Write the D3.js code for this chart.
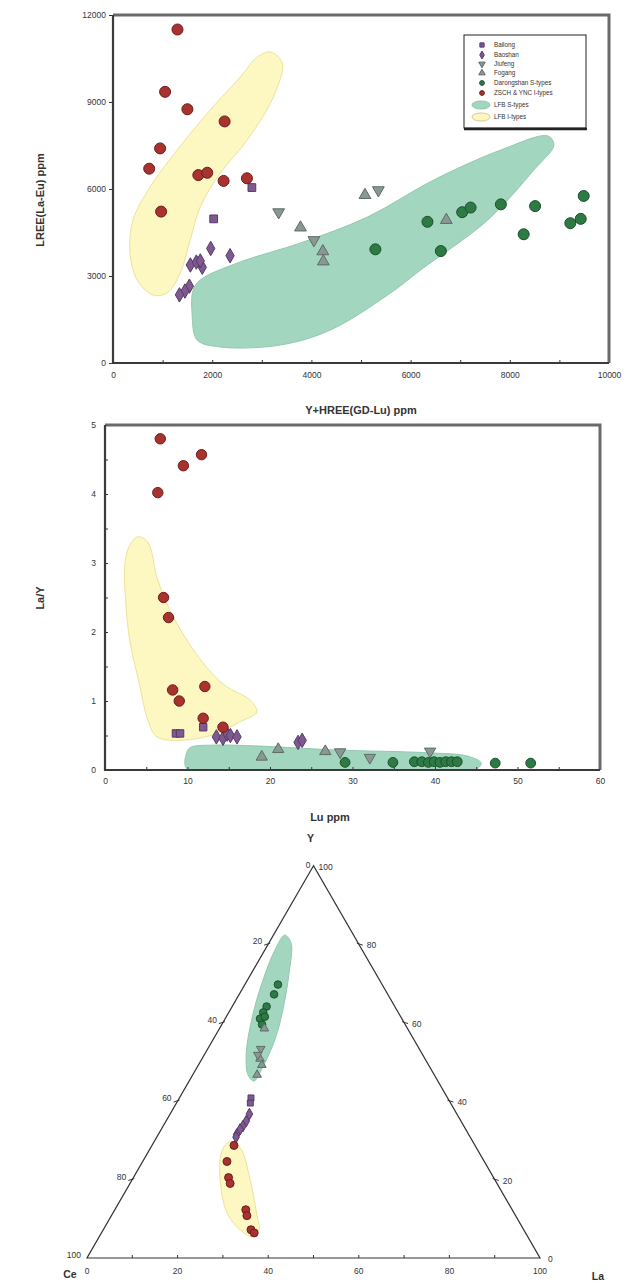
<!DOCTYPE html>
<html>
<head>
<meta charset="utf-8">
<script src="https://cdn.jsdelivr.net/npm/d3@7/dist/d3.min.js"></script>
<style>
  body { margin: 0; background: #fff; }
  svg { display: block; font-family: "Liberation Sans", Arial, sans-serif; }
  .tick text { fill: #333; }
</style>
</head>
<body>
<div id="chart"></div>
<script>
// ---------- data ----------
// panel 1: [Y+HREE(Gd-Lu) ppm, LREE(La-Eu) ppm]
const bailong1 = [[2800, 6050], [2030, 4970]]
const baoshan1 = [[1970, 3950], [2360, 3700], [1560, 3380], [1680, 3480], [1800, 3300], [1760, 3520], [1540, 2650], [1450, 2480], [1340, 2350]]
const jiufeng1 = [[3340, 5200], [4050, 4240], [5350, 5960]]
const fogang1 = [[3780, 4670], [5080, 5790], [6720, 4930], [4230, 3850], [4240, 3500]]
const darong1 = [[5290, 3920], [6340, 4870], [6610, 3860], [7040, 5200], [7210, 5360], [7820, 5470], [8510, 5410], [8280, 4440], [9490, 5760], [9220, 4820], [9430, 4970]]
const itype1 = [[1300, 11500], [1050, 9350], [1500, 8750], [2250, 8330], [950, 7400], [730, 6700], [1720, 6480], [1900, 6560], [2230, 6280], [2700, 6370], [970, 5220]]
const lfbS1 = [[1616, 2517], [1758, 2862], [2566, 3483], [3778, 4138], [5131, 5034], [6465, 6310], [7818, 7344], [8768, 7827], [8889, 7517], [8485, 6655], [7556, 4931], [6202, 3207], [5596, 2414], [4384, 1138], [3374, 620], [2162, 552], [1697, 793], [1596, 1655]]
const lfbI1 = [[3172, 10723], [3414, 10344], [3232, 9172], [2707, 7689], [2162, 6551], [1758, 5379], [1556, 4241], [1354, 3103], [1091, 2414], [808, 2345], [485, 2862], [343, 3793], [404, 4931], [747, 6069], [1293, 7344], [1960, 8723], [2566, 9861], [2909, 10551]]
const xTicks1 = [0, 2000, 4000, 6000, 8000, 10000]
const yTicks1 = [0, 3000, 6000, 9000, 12000]

// panel 2: [Lu ppm, La/Y]
const itype2 = [[6.7, 4.80], [6.4, 4.02], [9.5, 4.41], [11.7, 4.57], [7.1, 2.50], [7.7, 2.21], [8.2, 1.16], [9.0, 1.00], [12.1, 1.21], [11.9, 0.75], [14.3, 0.62]]
const bailong2 = [[8.6, 0.53], [9.1, 0.53], [11.9, 0.62]]
const baoshan2 = [[13.5, 0.48], [14.3, 0.46], [14.8, 0.52], [15.2, 0.50], [16.0, 0.48], [23.4, 0.40], [23.9, 0.43]]
const fogang2 = [[19.0, 0.19], [21.0, 0.30], [26.7, 0.27]]
const jiufeng2 = [[28.5, 0.26], [32.1, 0.18], [39.4, 0.27]]
const darong2 = [[29.1, 0.11], [34.9, 0.11], [37.5, 0.12], [38.4, 0.12], [39.2, 0.11], [39.9, 0.12], [40.6, 0.11], [41.3, 0.12], [42.0, 0.12], [42.7, 0.12], [47.3, 0.10], [51.6, 0.10]]
const lfbS2 = [[10, 0], [9.9, 0.25], [10.4, 0.33], [13, 0.36], [18, 0.35], [28, 0.29], [39, 0.25], [44, 0.2], [45.6, 0.1], [45, 0.01], [40, 0]]
const lfbI2 = [[4.0, 3.38], [5.2, 3.30], [6.4, 2.75], [8.5, 2.17], [11.9, 1.55], [14.5, 1.23], [17.6, 1.01], [18.4, 0.84], [16.4, 0.70], [13.1, 0.51], [9.1, 0.43], [6.3, 0.48], [5.2, 0.72], [4.2, 1.23], [3.0, 1.88], [2.5, 2.46], [2.4, 2.97], [3.0, 3.26]]
const xTicks2 = [0, 10, 20, 30, 40, 50, 60]
const yTicks2 = [0, 1, 2, 3, 4, 5]

// panel 3 (ternary): [Y, Ce, La]
const darong3 = [[69.7, 23.0, 7.3], [67.2, 25.1, 7.7], [64.1, 28.3, 7.6], [62.6, 29.8, 7.6], [61.0, 31.3, 7.7], [61.5, 30.0, 8.5], [59.5, 31.6, 8.9]]
const fogang3 = [[58.5, 31.6, 9.9], [50.8, 36.4, 12.8], [49.2, 36.8, 14.0], [46.7, 39.1, 14.2]]
const jiufeng3 = [[53.3, 35.0, 11.7], [51.8, 36.4, 11.8]]
const bailong3 = [[40.8, 43.4, 15.8], [39.5, 44.2, 16.3]]
const baoshan3 = [[36.7, 45.8, 17.5], [34.9, 47.4, 17.7], [33.6, 48.8, 17.6], [32.8, 49.8, 17.4], [31.5, 51.2, 17.3], [30.8, 51.7, 17.5]]
const itype3 = [[28.7, 53.2, 18.1], [24.6, 56.8, 18.6], [20.5, 58.5, 21.0], [19.0, 58.9, 22.1], [12.3, 58.8, 28.9], [10.8, 59.3, 29.9], [7.2, 60.2, 32.6], [6.4, 59.9, 33.7]]
const lfbS3 = [[82.3, 15.2, 2.5], [80.3, 14.8, 4.9], [72.6, 19.1, 8.3], [63.6, 24.9, 11.5], [55.9, 30.5, 13.6], [48.2, 37.3, 14.5], [45.1, 40.6, 14.3], [46.7, 41.1, 12.2], [52.1, 38.8, 9.1], [61.0, 33.1, 5.9], [70.0, 26.4, 3.6], [79.0, 18.8, 2.2]]
const lfbI3 = [[29.7, 53.0, 17.3], [27.7, 52.1, 20.2], [20.0, 54.0, 26.0], [11.0, 57.0, 32.0], [7.2, 58.4, 34.4], [5.4, 60.9, 33.7], [7.2, 62.6, 30.2], [11.0, 63.4, 25.6], [16.2, 62.1, 21.7], [25.1, 58.1, 16.8], [28.7, 55.2, 16.1]]
const ternTicks = [0, 20, 40, 60, 80, 100]

const legendNames = ["Bailong", "Baoshan", "Jiufeng", "Fogang", "Darongshan S-types", "ZSCH & YNC I-types", "LFB S-types", "LFB I-types"]

// ---------- styles ----------
const sty = {
  bailong: { sym: d3.symbolSquare, fill: "#7e5a8e", stroke: "#56396a" },
  baoshan: { sym: d3.symbolDiamond, fill: "#7e5a8e", stroke: "#56396a" },
  jiufeng: { sym: d3.symbolTriangle, rot: 180, fill: "#8a9893", stroke: "#5d6b66" },
  fogang: { sym: d3.symbolTriangle, fill: "#8a9893", stroke: "#5d6b66" },
  darong: { sym: d3.symbolCircle, fill: "#2d7a45", stroke: "#1b4f2c" },
  itype: { sym: d3.symbolCircle, fill: "#a8322e", stroke: "#6e1b1b" }
}
const greenFill = "#a3d6bf", yellowFill = "#fdf8c2", yellowEdge = "#ece29a"

const W = 632, H = 1285
const svg = d3.select("#chart").append("svg").attr("width", W).attr("height", H)

function drawPoints(g, data, s, x, y, size) {
  g.selectAll(null).data(data).enter().append("path")
    .attr("d", d3.symbol().type(s.sym).size(size))
    .attr("transform", d => `translate(${x(d)},${y(d)})` + (s.rot ? ` rotate(${s.rot})` : ""))
    .attr("fill", s.fill).attr("stroke", s.stroke).attr("stroke-width", 1)
}

function region(g, pts, fill, edge, line) {
  g.append("path").datum(pts).attr("d", line)
    .attr("fill", fill).attr("stroke", edge).attr("stroke-width", 1)
}

function styleAxis(g, fs) {
  g.select(".domain").remove()
  g.selectAll(".tick line").attr("stroke", "#333").attr("stroke-width", 1)
  g.selectAll(".tick text").attr("font-size", fs)
}

// frame: grey heavy top/right, darker left/bottom axes
function frame(g, x0, y0, x1, y1) {
  g.append("path").attr("d", `M${x0},${y0}H${x1}V${y1}`)
    .attr("fill", "none").attr("stroke", "#6a6a6a").attr("stroke-width", 3)
  g.append("path").attr("d", `M${x0},${y0}V${y1}H${x1}`)
    .attr("fill", "none").attr("stroke", "#3a3a3a").attr("stroke-width", 2.2)
}

// ---------- panel 1 ----------
{
  const x = d3.scaleLinear().domain([0, 10000]).range([113, 609])
  const y = d3.scaleLinear().domain([0, 12000]).range([363, 15])
  const g = svg.append("g")
  g.append("clipPath").attr("id", "c1").append("rect")
    .attr("x", 113).attr("y", 15).attr("width", 496).attr("height", 348)
  const line = d3.line().x(d => x(d[0])).y(d => y(d[1])).curve(d3.curveCatmullRomClosed.alpha(0.5))
  const rg = g.append("g").attr("clip-path", "url(#c1)")
  region(rg, lfbS1, greenFill, "#93c9b0", line)
  region(rg, lfbI1, yellowFill, yellowEdge, line)

  const px = d => x(d[0]), py = d => y(d[1])
  drawPoints(g, baoshan1, sty.baoshan, px, py, 60)
  drawPoints(g, bailong1, sty.bailong, px, py, 60)
  drawPoints(g, jiufeng1, sty.jiufeng, px, py, 60)
  drawPoints(g, fogang1, sty.fogang, px, py, 60)
  drawPoints(g, darong1, sty.darong, px, py, 95)
  drawPoints(g, itype1, sty.itype, px, py, 95)

  const ax = g.append("g").attr("transform", "translate(0,363)")
    .call(d3.axisBottom(x).tickValues(d3.range(0, 10001, 1000)).tickSize(-3).tickFormat(d => xTicks1.includes(d) ? d : "").tickPadding(9))
  styleAxis(ax, 8.5)
  const ay = g.append("g").attr("transform", "translate(113,0)")
    .call(d3.axisLeft(y).tickValues(yTicks1).tickSize(4).tickPadding(3).tickFormat(d3.format("d")))
  styleAxis(ay, 8.5)
  ay.selectAll(".tick text").attr("dy", "0.3em")

  frame(g, 113, 15, 609, 363)

  g.append("text").attr("x", 361).attr("y", 414).attr("text-anchor", "middle")
    .attr("font-size", 11).attr("font-weight", "bold").attr("fill", "#333").text("Y+HREE(GD-Lu) ppm")
  g.append("text").attr("transform", "translate(44,200) rotate(-90)").attr("text-anchor", "middle")
    .attr("font-size", 11).attr("font-weight", "bold").attr("fill", "#333").text("LREE(La-Eu) ppm")

  // legend
  const lg = g.append("g")
  lg.append("rect").attr("x", 464).attr("y", 35).attr("width", 122).attr("height", 93)
    .attr("fill", "#fff").attr("stroke", "#222").attr("stroke-width", 1)
  lg.append("line").attr("x1", 464).attr("x2", 587).attr("y1", 129).attr("y2", 129).attr("stroke", "#222").attr("stroke-width", 2.5)
  const keys = ["bailong", "baoshan", "jiufeng", "fogang", "darong", "itype"]
  const rowY = [45, 55, 64, 73, 83, 93, 105, 117]
  keys.forEach((k, i) => {
    drawPoints(lg, [0], sty[k], () => 482, () => rowY[i], 18)
  })
  lg.append("ellipse").attr("cx", 481).attr("cy", rowY[6]).attr("rx", 9).attr("ry", 4).attr("fill", greenFill).attr("stroke", "#8fc6ac")
  lg.append("ellipse").attr("cx", 481).attr("cy", rowY[7]).attr("rx", 9).attr("ry", 4).attr("fill", yellowFill).attr("stroke", "#d9c98a")
  lg.selectAll(null).data(legendNames).enter().append("text")
    .attr("x", 494).attr("y", (d, i) => rowY[i] + 2.2).attr("font-size", 6.3).attr("fill", "#333").text(d => d)
}

// ---------- panel 2 ----------
{
  const x = d3.scaleLinear().domain([0, 60]).range([105, 600])
  const y = d3.scaleLinear().domain([0, 5]).range([770, 425])
  const g = svg.append("g")
  g.append("clipPath").attr("id", "c2").append("rect")
    .attr("x", 105).attr("y", 425).attr("width", 495).attr("height", 345)
  const line = d3.line().x(d => x(d[0])).y(d => y(d[1])).curve(d3.curveCatmullRomClosed.alpha(0.5))
  const rg = g.append("g").attr("clip-path", "url(#c2)")
  region(rg, lfbS2, greenFill, "#93c9b0", line)
  region(rg, lfbI2, yellowFill, yellowEdge, line)

  const px = d => x(d[0]), py = d => y(d[1])
  drawPoints(g, bailong2, sty.bailong, px, py, 55)
  drawPoints(g, baoshan2, sty.baoshan, px, py, 60)
  drawPoints(g, fogang2, sty.fogang, px, py, 55)
  drawPoints(g, jiufeng2, sty.jiufeng, px, py, 55)
  drawPoints(g, darong2, sty.darong, px, py, 75)
  drawPoints(g, itype2, sty.itype, px, py, 85)

  const ax = g.append("g").attr("transform", "translate(0,770)")
    .call(d3.axisBottom(x).tickValues(d3.range(0, 61, 5)).tickSize(-3).tickFormat(d => xTicks2.includes(d) ? d : "").tickPadding(8))
  styleAxis(ax, 8.5)
  const ay = g.append("g").attr("transform", "translate(105,0)")
    .call(d3.axisLeft(y).tickValues(d3.range(0, 5.01, 0.5)).tickSize(-3).tickFormat(d => yTicks2.includes(d) ? d : "").tickPadding(9))
  styleAxis(ay, 8.5)

  frame(g, 105, 425, 600, 770)

  g.append("text").attr("x", 330).attr("y", 821).attr("text-anchor", "middle")
    .attr("font-size", 11).attr("font-weight", "bold").attr("fill", "#333").text("Lu ppm")
  g.append("text").attr("transform", "translate(44,598) rotate(-90)").attr("text-anchor", "middle")
    .attr("font-size", 11).attr("font-weight", "bold").attr("fill", "#333").text("La/Y")
}

// ---------- panel 3: ternary Y - Ce - La ----------
{
  const side = 453
  const bx = d3.scaleLinear().domain([0, 100]).range([87, 87 + side])
  const by = d3.scaleLinear().domain([0, 100]).range([1258, 1258 - side * Math.sqrt(3) / 2])
  const tx = d => { const s = d[0] + d[1] + d[2]; return bx((d[2] + d[0] / 2) * 100 / s) }
  const ty = d => { const s = d[0] + d[1] + d[2]; return by(d[0] * 100 / s) }
  const g = svg.append("g")
  const line = d3.line().x(tx).y(ty).curve(d3.curveCatmullRomClosed.alpha(0.5))
  region(g, lfbS3, greenFill, "#93c9b0", line)
  region(g, lfbI3, yellowFill, yellowEdge, line)

  const corners = [[100, 0, 0], [0, 100, 0], [0, 0, 100]]
  g.append("path").datum(corners).attr("d", d3.line().x(tx).y(ty).curve(d3.curveLinearClosed))
    .attr("fill", "none").attr("stroke", "#333").attr("stroke-width", 1.2)

  // bottom axis: La
  g.selectAll(null).data(d3.range(10, 100, 10)).enter().append("line")
    .attr("x1", d => tx([0, 100 - d, d])).attr("x2", d => tx([0, 100 - d, d]))
    .attr("y1", d => ty([0, 100 - d, d])).attr("y2", d => ty([0, 100 - d, d]) - 3)
    .attr("stroke", "#333")
  g.selectAll(null).data(ternTicks).enter().append("text")
    .attr("x", d => tx([0, 100 - d, d])).attr("y", d => ty([0, 100 - d, d]) + 16)
    .attr("text-anchor", "middle").attr("font-size", 8.5).attr("fill", "#333").text(d => d)
  // left edge: Ce (0 at apex)
  const leftT = ternTicks.filter(d => d > 0 && d < 100)
  g.selectAll(null).data(leftT).enter().append("line")
    .attr("x1", d => tx([100 - d, d, 0]) - 4).attr("x2", d => tx([100 - d, d, 0]) + 2)
    .attr("y1", d => ty([100 - d, d, 0]) + 1).attr("y2", d => ty([100 - d, d, 0]) - 1)
    .attr("stroke", "#333")
  g.selectAll(null).data(ternTicks).enter().append("text")
    .attr("x", d => tx([100 - d, d, 0]) - (d === 0 ? 3 : 6)).attr("y", d => ty([100 - d, d, 0]) + (d === 0 ? 2 : 0))
    .attr("text-anchor", "end").attr("font-size", 8.5).attr("fill", "#333").text(d => d)
  // right edge: Y (100 at apex)
  g.selectAll(null).data(leftT).enter().append("line")
    .attr("x1", d => tx([d, 0, 100 - d]) - 2).attr("x2", d => tx([d, 0, 100 - d]) + 4)
    .attr("y1", d => ty([d, 0, 100 - d]) - 1).attr("y2", d => ty([d, 0, 100 - d]) + 1)
    .attr("stroke", "#333")
  g.selectAll(null).data(ternTicks).enter().append("text")
    .attr("x", d => tx([d, 0, 100 - d]) + (d === 100 ? 5 : 8)).attr("y", d => ty([d, 0, 100 - d]) + 4)
    .attr("text-anchor", "start").attr("font-size", 8.5).attr("fill", "#333").text(d => d)

  const px = tx, py = ty
  drawPoints(g, darong3, sty.darong, px, py, 45)
  drawPoints(g, fogang3, sty.fogang, px, py, 32)
  drawPoints(g, jiufeng3, sty.jiufeng, px, py, 32)
  drawPoints(g, bailong3, sty.bailong, px, py, 35)
  drawPoints(g, baoshan3, sty.baoshan, px, py, 38)
  drawPoints(g, itype3, sty.itype, px, py, 50)

  const ttl = (t, xx, yy) => g.append("text").attr("x", xx).attr("y", yy).attr("text-anchor", "middle")
    .attr("font-size", 10.5).attr("font-weight", "bold").attr("fill", "#333").text(t)
  ttl("Y", tx([100, 0, 0]) - 3, ty([100, 0, 0]) - 24)
  ttl("Ce", tx([0, 100, 0]) - 17, ty([0, 100, 0]) + 20)
  ttl("La", tx([0, 0, 100]) + 58, ty([0, 0, 100]) + 22)
}
</script>
</body>
</html>
